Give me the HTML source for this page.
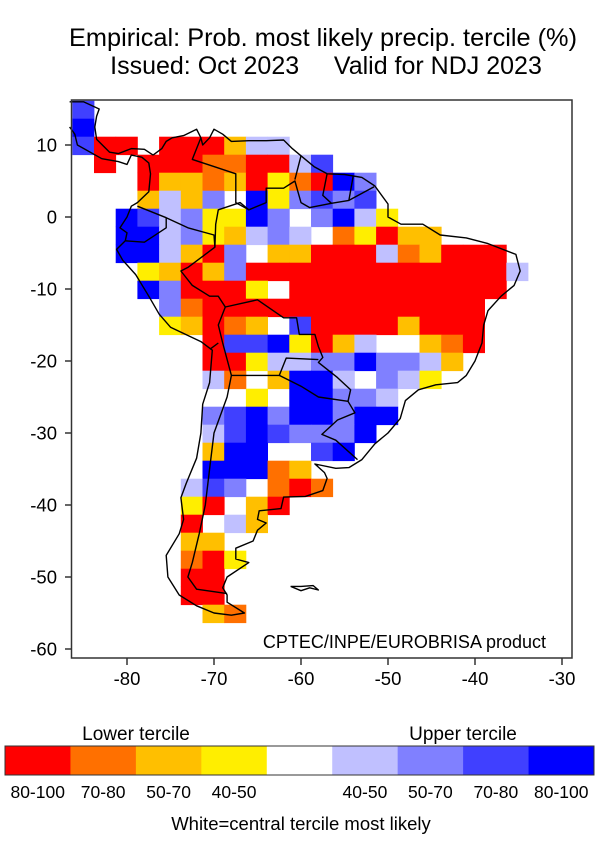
<!DOCTYPE html>
<html><head><meta charset="utf-8">
<style>
html,body{margin:0;padding:0;background:#fff;}
body{width:600px;height:850px;overflow:hidden;font-family:"Liberation Sans",Arial,sans-serif;}
</style></head><body>
<svg id="s" width="600" height="850" xmlns="http://www.w3.org/2000/svg" font-family="Liberation Sans, Arial, sans-serif">
<text x="323" y="46" font-size="25" text-anchor="middle" textLength="508" lengthAdjust="spacingAndGlyphs">Empirical: Prob. most likely precip. tercile (%)</text>
<text x="326" y="74" font-size="25" text-anchor="middle" xml:space="preserve">Issued: Oct 2023     Valid for NDJ 2023</text>
<g id="cells"></g>
<g id="lines" fill="none" stroke="#000" stroke-width="1.4" stroke-linejoin="round"></g>
<rect x="71.5" y="100" width="500.5" height="558" fill="none" stroke="#333" stroke-width="1.5"/>
<g id="ax" font-size="18.5" fill="#000"></g>
<text x="546" y="648" font-size="18" text-anchor="end">CPTEC/INPE/EUROBRISA product</text>
<g id="leg" font-size="17.5"></g>
<text x="136" y="740" font-size="19" text-anchor="middle">Lower tercile</text>
<text x="463" y="740" font-size="19" text-anchor="middle">Upper tercile</text>
<text x="301" y="830" font-size="18.5" text-anchor="middle">White=central tercile most likely</text>
</svg>
<script>
var C={R:"#ff0000",O:"#ff7000",A:"#ffbf00",Y:"#ffee00",W:"#ffffff",L:"#c0c0ff",P:"#8080ff",M:"#4040ff",B:"#0000ff"};
var rows={
0:"M",1:"B",
2:"MRR.RRRALL",
3:".R.RRROORRLM",
4:"...RAAOARYORBP",
5:"...ALAPWBYPMPM",
6:"..BMLPYYBPWPBLY",
7:"..BBLPYALPLWOYRAA",
8:"..BBLARPWAARRRLOARRR",
9:"...YARAPRRRRRRRRRRRRL",
10:"...BPRRRYWRRRRRRRRRR",
11:"....PORRRRRRRRRRRRR",
12:"....YAROAWMRRRRARRR",
13:"......RMMBYRALWWAOR",
14:"......RRYLLPPBPPLA",
15:"......LOWABBLWPLY",
16:"........Y.BBPPL",
17:"......PMBPBBPBB",
18:"......LMBMPPPB",
19:"......ABB..MB",
20:"......BBBOA",
21:".....LMPWORO",
22:".....YRWAR",
23:".....RWLA",
24:".....AA",
25:".....ORY",
26:".....RR",
27:".....RR",
28:"......AO"
};
var h="";
for(var r in rows){var row=rows[r];
 for(var c=0;c<row.length;c++){var k=row[c];
  if(k==="."||k==="W")continue;
  var x=72.3+21.7*c,y=100.7+18*r,ww=21.7;
  if(x+ww>572)ww=572-x;
  h+='<rect x="'+x.toFixed(1)+'" y="'+y.toFixed(1)+'" width="'+(ww+0.4).toFixed(1)+'" height="18.4" fill="'+C[k]+'"/>';}}
document.getElementById("cells").innerHTML=h;
function P(lo,la){return (127+(lo+80)*8.7).toFixed(1)+","+(217-la*7.2).toFixed(1);}
function path(a){var s="M";for(var i=0;i<a.length;i++)s+=(i?" L":"")+P(a[i][0],a[i][1]);return '<path d="'+s+'"/>';}
var L=[];
L.push([[-77,8.6],[-76,9.5],[-75.5,10.5],[-74.8,11],[-73.5,11.3],[-72,12.2],[-71.5,11],[-71.3,10],[-70.5,11],[-70,12.2],[-69,11.5],[-68,10.5],[-66,10.6],[-64,10.6],[-62,10.7],[-61,9.5],[-60,8.5],[-58.5,7],[-57,6],[-55,5.9],[-53,5.5],[-51.5,4.3],[-50,1.8],[-50,0],[-48.5,-1],[-46,-1],[-44,-2.5],[-41,-2.9],[-38.5,-3.7],[-35.3,-5.2],[-34.8,-7.5],[-35.5,-9.5],[-37,-11],[-38.5,-13],[-39,-15],[-39.2,-17.5],[-40,-20],[-41,-22],[-42,-23],[-44.5,-23.3],[-46.5,-24],[-48,-25.5],[-48.6,-28],[-50,-30],[-51.5,-31.5],[-53,-33.7],[-54.5,-34.8],[-56,-34.9],[-58.4,-34.3],[-57.3,-35.5],[-57,-36.3],[-57.5,-38],[-59.5,-38.8],[-62,-38.9],[-62.3,-40.5],[-64.8,-40.8],[-65,-42],[-64,-42.5],[-65,-43.5],[-65.5,-45],[-67.5,-46],[-67.5,-47.5],[-66,-48],[-68.5,-50],[-69,-51.5],[-68.5,-52.5],[-68.5,-53.5],[-66.5,-55],[-68,-55.3],[-70,-55],[-72,-54],[-74,-52.5],[-75.3,-50],[-75.5,-47],[-74,-44],[-73.5,-42],[-73.8,-39],[-73.2,-37],[-72,-33.5],[-71.5,-30],[-71.3,-26],[-70.5,-23],[-70.2,-18.5],[-71.5,-17.3],[-75,-15.3],[-76.3,-13.5],[-77.5,-11],[-79,-8],[-80.5,-6],[-81.2,-4.5],[-80.2,-3.3],[-80,-2.2],[-80.8,-1.5],[-80,0],[-79.5,1.5],[-78.8,2],[-77.5,3.5],[-77.3,6],[-77.5,7.5],[-78.3,8.3],[-79.5,8.6],[-80,7.3],[-81,7.7],[-82.9,8.1],[-85.7,10],[-86,11.5],[-86.6,12.5]]);
L.push([[-77,8.6],[-78,9.4],[-79.5,9.5],[-81,8.8],[-82,9],[-83.5,10.8],[-83.7,12.5],[-83.5,14],[-83.2,15],[-85,16],[-86.6,16]]);
L.push([[-61.2,-51.3],[-60,-51.9],[-59,-51.5],[-58,-51.8],[-58.6,-51.2],[-60,-51.3],[-61.2,-51.3]]);
L.push([[-51.6,4.2],[-54.5,2.3],[-56.5,1.9],[-59,1.3],[-60,2],[-60.7,5],[-62,4],[-64,4],[-64,2],[-66,1],[-67,2],[-69.5,1],[-69.8,-1],[-69.9,-4.2],[-73,-7],[-73.8,-7.5],[-72.5,-9.5],[-70.5,-11],[-69.5,-11],[-68.7,-12.5],[-65,-11.5],[-62,-14],[-60.5,-14],[-60.2,-16.3],[-58.4,-16.3],[-58,-18],[-57.5,-19.5],[-58,-20.2],[-55.8,-22.3],[-54.3,-24],[-54.6,-25.6],[-53.8,-27.2],[-55.8,-28.2],[-57.6,-30.2],[-56,-31],[-53.5,-33.7]]);
L.push([[-68.7,-12.5],[-69.5,-15],[-69,-17.5],[-68,-22],[-68.5,-25],[-70,-30],[-70.5,-35],[-71,-40],[-71.7,-44],[-72.5,-48],[-73,-50],[-72,-51.7],[-68.5,-52.3]]);
L.push([[-68,-22],[-65,-22],[-62.5,-22],[-61.7,-19.6],[-58,-19.8]]);
L.push([[-62.5,-22],[-60,-23.5],[-58,-25],[-54.6,-25.6]]);
L.push([[-71.5,11],[-72.5,8],[-70,7],[-67.5,6],[-67.5,2],[-66,1]]);
L.push([[-69.9,-4.2],[-70,-2.5],[-73,-1.5],[-75.5,-0.1],[-78.8,1.5]]);
L.push([[-75.5,-0.1],[-75.5,-1.5],[-78,-3.5],[-80.2,-3.3]]);
L.push([[-60,8.5],[-60.7,5.2]]);
L.push([[-57,6],[-57.5,3],[-56.5,1.9]]);
L.push([[-54,5.7],[-54.5,2.3]]);
L.push([[-70.4,-18.3],[-69.5,-17.5]]);
var lh="";L.forEach(function(a){lh+=path(a);});
document.getElementById("lines").innerHTML=lh;
var ax="";
[[10,"10"],[0,"0"],[-10,"-10"],[-20,"-20"],[-30,"-30"],[-40,"-40"],[-50,"-50"],[-60,"-60"]].forEach(function(t){var y=217-t[0]*7.2;ax+='<line x1="65" x2="71.5" y1="'+y+'" y2="'+y+'" stroke="#333" stroke-width="1.5"/><text x="57" y="'+(y+6.5)+'" text-anchor="end">'+t[1]+'</text>';});
[-80,-70,-60,-50,-40,-30].forEach(function(l){var x=127+(l+80)*8.7;ax+='<line x1="'+x+'" x2="'+x+'" y1="658" y2="665" stroke="#333" stroke-width="1.5"/><text x="'+x+'" y="685" text-anchor="middle">'+l+'</text>';});
document.getElementById("ax").innerHTML=ax;
var lc=["#ff0000","#ff7000","#ffbf00","#ffee00","#ffffff","#c0c0ff","#8080ff","#4040ff","#0000ff"];
var ll=["80-100","70-80","50-70","40-50","","40-50","50-70","70-80","80-100"];
var lg="",w=589/9;
for(var i=0;i<9;i++){var x=5+i*w;lg+='<rect x="'+x+'" y="746" width="'+(w+0.5)+'" height="29" fill="'+lc[i]+'"/>';if(ll[i])lg+='<text x="'+(x+w/2)+'" y="798" text-anchor="middle">'+ll[i]+'</text>';}
lg+='<rect x="5" y="746" width="589" height="29" fill="none" stroke="#333" stroke-width="1"/>';
document.getElementById("leg").innerHTML=lg;
</script>
</body></html>
